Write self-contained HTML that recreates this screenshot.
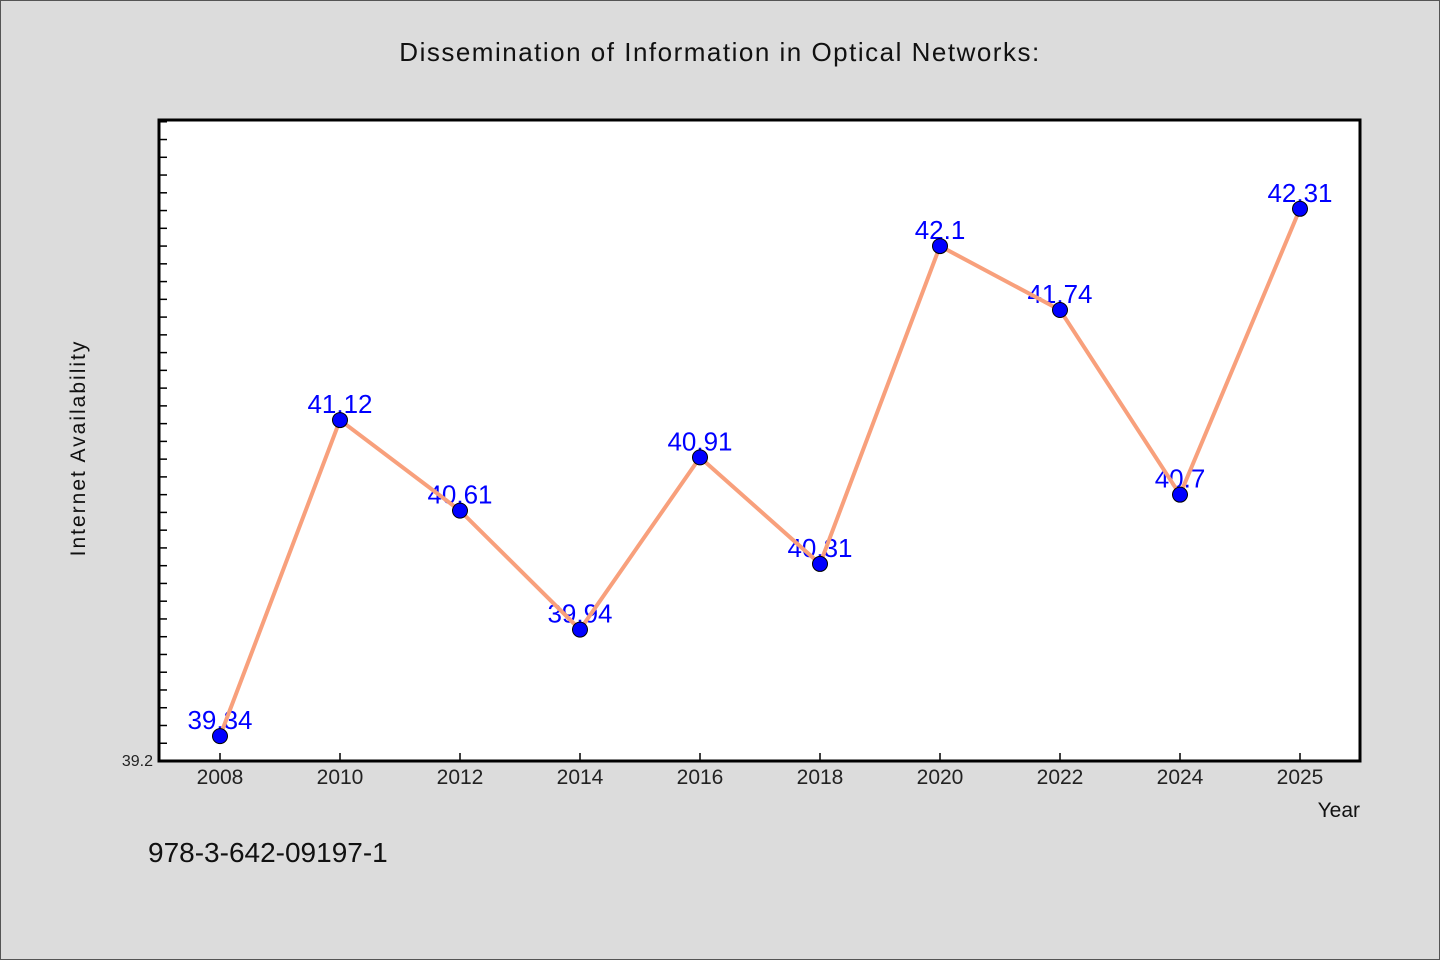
<!DOCTYPE html>
<html><head><meta charset="utf-8"><style>
body{margin:0;background:#dcdcdc}
svg{display:block}
text{font-family:"WenQuanYi Zen Hei","Liberation Sans",sans-serif}
</style></head><body>
<svg width="1440" height="960" id="c">
<rect x="0.5" y="0.5" width="1439" height="959" fill="#dcdcdc" stroke="#555"/>
<text x="720" y="61" text-anchor="middle" font-size="26" fill="#111" letter-spacing="1.5">Dissemination of Information in Optical Networks:</text>
<rect x="159" y="120" width="1201" height="641" fill="#fff"/>
<g id="g"></g>
<rect x="159" y="120" width="1201" height="641" fill="none" stroke="#000" stroke-width="3"/>
<text x="85" y="448" transform="rotate(-90 85 448)" text-anchor="middle" font-size="21" fill="#111" letter-spacing="2">Internet Availability</text>
<text x="1360" y="817" text-anchor="end" font-size="21" fill="#111">Year</text>
<text x="148" y="862" font-size="28" fill="#111">978-3-642-09197-1</text>
</svg>
<script>
const categories=["2008","2010","2012","2014","2016","2018","2020","2022","2024","2025"];
const values=[39.34,41.12,40.61,39.94,40.91,40.31,42.1,41.74,40.7,42.31];
const yMin=39.2, yMax=42.81;
const g=document.getElementById('g');
const NS='http://www.w3.org/2000/svg';
const x=i=>220+i*120;
const y=v=>761-(v-yMin)/(yMax-yMin)*641;
function mk(t,a){const e=document.createElementNS(NS,t);for(const k in a)e.setAttribute(k,a[k]);g.appendChild(e);return e;}
for(let v=yMin+0.1;v<yMax;v+=0.1){const t=mk('line',{x1:159,x2:167,y1:y(v),y2:y(v),stroke:'#000','stroke-width':1.5});

}
const yl=mk('text',{x:153,y:766,'text-anchor':'end','font-size':16,fill:'#222'});yl.textContent='39.2';


categories.forEach((c,i)=>{const t=mk('line',{x1:x(i),x2:x(i),y1:761,y2:753,stroke:'#000','stroke-width':1.5});


const l=mk('text',{x:x(i),y:784,'text-anchor':'middle','font-size':21,fill:'#222'});l.textContent=c;

});
values.forEach((v,i)=>{const l=mk('text',{x:x(i),y:y(v)-7,'text-anchor':'middle','font-size':26,fill:'#0000ff'});l.textContent=v;

});
const p=mk('polyline',{points:values.map((v,i)=>x(i)+','+y(v)).join(' '),fill:'none',stroke:'#f8a07c','stroke-width':4});


values.forEach((v,i)=>{const c=mk('circle',{cx:x(i),cy:y(v),r:7.5,fill:'#0000ff',stroke:'#000','stroke-width':1});

});
</script>
</body></html>
